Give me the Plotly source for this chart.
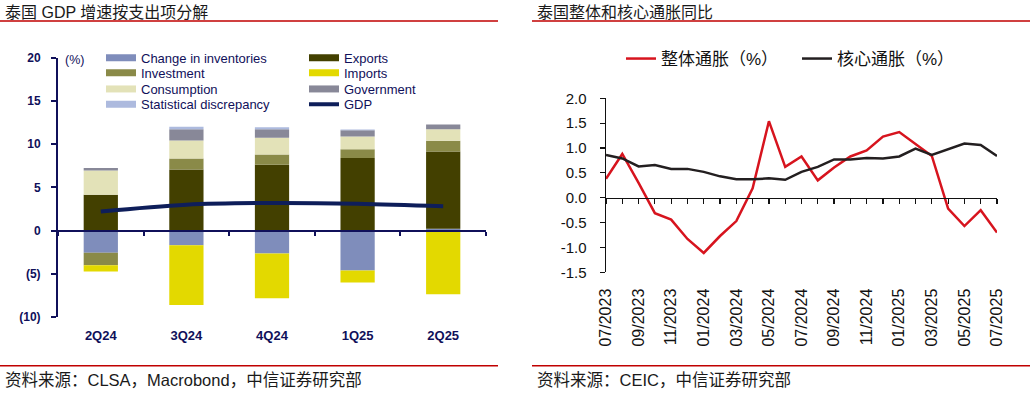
import plotly.graph_objects as go

# ---------------- data: left chart ----------------
quarters = ["2Q24", "3Q24", "4Q24", "1Q25", "2Q25"]
inventories = [-2.57, -1.70, -2.65, -4.61, 0.20]
exports = [4.15, 7.07, 7.61, 8.39, 8.95]
investment = [-1.43, 1.27, 1.19, 1.03, 1.23]
imports = [-0.73, -6.92, -5.19, -1.39, -7.38]
consumption = [2.80, 2.08, 1.93, 1.46, 1.35]
government = [0.28, 1.31, 1.00, 0.73, 0.53]
stat_disc = [0.00, 0.27, 0.23, 0.08, 0.00]
gdp = [2.2, 3.0, 3.2, 3.1, 2.8]
left_tickvals = [-10, -5, 0, 5, 10, 15, 20]
left_ticktext = ["(10)", "(5)", "0", "5", "10", "15", "20"]

# ---------------- data: right chart ----------------
months = ["07/2023", "08/2023", "09/2023", "10/2023", "11/2023", "12/2023",
          "01/2024", "02/2024", "03/2024", "04/2024", "05/2024", "06/2024",
          "07/2024", "08/2024", "09/2024", "10/2024", "11/2024", "12/2024",
          "01/2025", "02/2025", "03/2025", "04/2025", "05/2025", "06/2025",
          "07/2025"]
headline = [0.38, 0.88, 0.30, -0.31, -0.44, -0.83, -1.11, -0.77, -0.47, 0.19,
            1.54, 0.62, 0.83, 0.35, 0.61, 0.83, 0.95, 1.23, 1.32, 1.08,
            0.84, -0.22, -0.57, -0.25, -0.70]
core = [0.86, 0.79, 0.63, 0.66, 0.58, 0.58, 0.52, 0.43, 0.37, 0.37,
        0.39, 0.36, 0.52, 0.62, 0.77, 0.77, 0.80, 0.79, 0.83, 0.99,
        0.86, 0.98, 1.09, 1.06, 0.84]
month_ticklabels = months[::2]
right_tickvals = [-1.5, -1.0, -0.5, 0.0, 0.5, 1.0, 1.5, 2.0]
right_ticktext = ["-1.5", "-1.0", "-0.5", "0.0", "0.5", "1.0", "1.5", "2.0"]

# ---------------- layout helpers ----------------
W, H = 1035, 393


def fx(p):
    return p / W


def fy(p):
    return 1 - p / H


NAVY = "#10105a"
LEFT_X = [fx(58), fx(486)]
LEFT_Y = [fy(317), fy(57.7)]
RIGHT_X = [fx(606), fx(997)]
RIGHT_Y = [fy(272.3), fy(98.3)]
left_range = [-10, 20]
right_range = [-1.5, 2.0]
left_zero = LEFT_Y[0] + (LEFT_Y[1] - LEFT_Y[0]) * (0 - left_range[0]) / (left_range[1] - left_range[0])
right_zero = RIGHT_Y[0] + (RIGHT_Y[1] - RIGHT_Y[0]) * (0 - right_range[0]) / (right_range[1] - right_range[0])

fig = go.Figure()

# stacked bars (trace order controls stacking)
bar_series = [
    ("Change in inventories", inventories, "#7f8dbb", "legend"),
    ("Exports", exports, "#434000", "legend"),
    ("Investment", investment, "#8a8a48", "legend2"),
    ("Imports", imports, "#e3d900", "legend2"),
    ("Consumption", consumption, "#e3e2b8", "legend3"),
    ("Government", government, "#888898", "legend3"),
    ("Statistical discrepancy", stat_disc, "#adbade", "legend4"),
]
for name, vals, color, lg in bar_series:
    fig.add_trace(go.Bar(x=quarters, y=vals, name=name, marker_color=color,
                         marker_line_width=0, showlegend=False,
                         xaxis="x", yaxis="y"))

fig.add_trace(go.Scatter(x=quarters, y=gdp, mode="lines", name="GDP",
                         line=dict(color="#0e1e5a", width=4, shape="spline"),
                         showlegend=False, xaxis="x3", yaxis="y"))

# legend proxies (wide rectangle symbols)
for name, vals, color, lg in bar_series:
    fig.add_trace(go.Scatter(x=[None], y=[None], mode="lines", name=name,
                             line=dict(color=color, width=7), legend=lg,
                             xaxis="x", yaxis="y"))
fig.add_trace(go.Scatter(x=[None], y=[None], mode="lines", name="GDP",
                         line=dict(color="#0e1e5a", width=4), legend="legend4",
                         xaxis="x", yaxis="y"))

# right lines
fig.add_trace(go.Scatter(x=months, y=headline, mode="lines", name="整体通胀（%）",
                         line=dict(color="#d7141e", width=2.5), legend="legend5",
                         xaxis="x2", yaxis="y2"))
fig.add_trace(go.Scatter(x=months, y=core, mode="lines", name="核心通胀（%）",
                         line=dict(color="#231f20", width=2.5), legend="legend5",
                         xaxis="x4", yaxis="y2"))

leg_font = dict(family="Liberation Sans, Arial", size=13, color=NAVY)


def row_legend(yc):
    return dict(orientation="h", x=fx(101), xanchor="left", y=fy(yc), yanchor="middle",
                bgcolor="rgba(0,0,0,0)", font=leg_font, entrywidth=158,
                entrywidthmode="pixels", itemwidth=30, traceorder="normal",
                itemclick=False, itemdoubleclick=False)


fig.update_layout(
    width=W, height=H,
    margin=dict(l=0, r=0, t=0, b=0, autoexpand=False),
    paper_bgcolor="white", plot_bgcolor="white",
    barmode="relative", bargap=0.6,
    legend=row_legend(57.7),
    legend2=row_legend(72.7),
    legend3=row_legend(89),
    legend4=row_legend(104.3),
    legend5=dict(orientation="h", x=fx(621), xanchor="left", y=fy(59), yanchor="middle",
                 bgcolor="rgba(0,0,0,0)",
                 font=dict(family="Liberation Sans, Noto Sans CJK SC", size=17, color="#111111"),
                 entrywidth=131, entrywidthmode="pixels", itemwidth=30),
    xaxis=dict(domain=LEFT_X, anchor="y", type="category", categoryarray=quarters,
               range=[-0.5, 4.5], showline=False, showgrid=False, zeroline=False,
               ticks="outside", ticklen=6, tickcolor="rgba(0,0,0,0)",
               tickfont=dict(family="Liberation Sans, Arial", size=13, color=NAVY, weight="bold")),
    xaxis3=dict(overlaying="x", anchor="free", position=left_zero, type="category",
                categoryarray=quarters, range=[-0.5, 4.5], showline=True, linecolor=NAVY,
                linewidth=2, ticks="outside", tickson="boundaries", ticklen=4, tickwidth=2,
                tickcolor=NAVY, showticklabels=False, showgrid=False, zeroline=False),
    yaxis=dict(domain=LEFT_Y, anchor="x", range=left_range, tickmode="array",
               tickvals=left_tickvals, ticktext=left_ticktext, showline=True,
               linecolor=NAVY, linewidth=2, ticks="outside", ticklen=5, tickwidth=2,
               tickcolor=NAVY, showgrid=False, zeroline=False, ticklabelstandoff=8,
               tickfont=dict(family="Liberation Sans, Arial", size=12, color=NAVY, weight="bold")),
    xaxis2=dict(domain=RIGHT_X, anchor="y2", type="category", categoryarray=months,
                range=[0, 24], tickmode="array", tickvals=month_ticklabels,
                tickangle=-90, showline=False, showgrid=False, zeroline=False,
                ticks="outside", ticklen=9, tickcolor="rgba(0,0,0,0)",
                tickfont=dict(family="Liberation Sans, Arial", size=16, color="#111111")),
    xaxis4=dict(overlaying="x2", anchor="free", position=right_zero, type="category",
                categoryarray=months, range=[0, 24], tickmode="array", tickvals=months,
                showline=True, linecolor="#111111", linewidth=1.5, ticks="outside",
                ticklen=5, tickwidth=1.2, tickcolor="#111111", showticklabels=False,
                showgrid=False, zeroline=False),
    yaxis2=dict(domain=RIGHT_Y, anchor="x2", range=right_range, tickmode="array",
                tickvals=right_tickvals, ticktext=right_ticktext, showline=True,
                linecolor="#111111", linewidth=1.5, ticks="outside", ticklen=5,
                tickwidth=1.2, tickcolor="#111111", showgrid=False, zeroline=False,
                ticklabelstandoff=10,
                tickfont=dict(family="Liberation Sans, Arial", size=15, color="#111111")),
)

cjk = "Liberation Sans, Noto Sans CJK SC"
annos = [
    dict(text="泰国 GDP 增速按支出项分解", x=fx(3), y=fy(12), size=16),
    dict(text="泰国整体和核心通胀同比", x=fx(535), y=fy(12), size=16),
    dict(text="资料来源：CLSA，Macrobond，中信证券研究部", x=fx(3), y=fy(380), size=16.5),
    dict(text="资料来源：CEIC，中信证券研究部", x=fx(535), y=fy(380), size=16.5),
]
for a in annos:
    fig.add_annotation(text=a["text"], x=a["x"], y=a["y"], xref="paper", yref="paper",
                       xanchor="left", yanchor="middle", showarrow=False,
                       font=dict(family=cjk, size=a["size"], color="#1a1a1a"))
fig.add_annotation(text="(%)", x=fx(63), y=fy(60), xref="paper", yref="paper",
                   xanchor="left", yanchor="middle", showarrow=False,
                   font=dict(family="Liberation Sans, Arial", size=12.5, color=NAVY))

RED = "#c00000"
for x0, x1 in [(0, 498), (532, 1030)]:
    for yy in (21, 365.7):
        fig.add_shape(type="line", xref="paper", yref="paper", x0=fx(x0), x1=fx(x1),
                      y0=fy(yy), y1=fy(yy), line=dict(color=RED, width=1.5))

fig.write_html("out.html",
               config={"displayModeBar": False, "staticPlot": True},
               post_script="document.body.style.margin='0px';"
                           "document.body.style.overflow='hidden';")
